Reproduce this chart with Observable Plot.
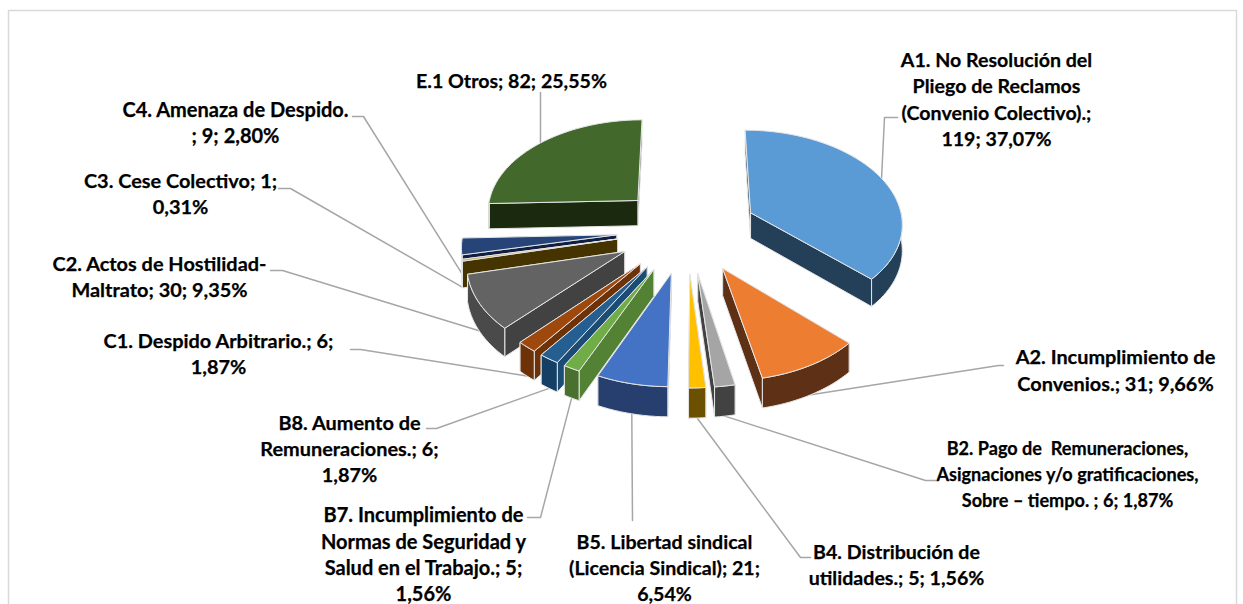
<!DOCTYPE html>
<html>
<head>
<meta charset="utf-8">
<script src="https://cdn.jsdelivr.net/npm/d3@7"></script>
<script src="https://cdn.jsdelivr.net/npm/@observablehq/plot@0.6"></script>
<style>
html,body{margin:0;padding:0;background:#fff;overflow:hidden}
svg{display:block}
</style>
</head>
<body>
<div id="chart"></div>
<script>
// ---- data ----
const categories = [
  "A1. No Resolución del\nPliego de Reclamos\n(Convenio Colectivo).;\n",
  "A2. Incumplimiento de\nConvenios.; ",
  "B2. Pago de  Remuneraciones,\nAsignaciones y/o gratificaciones,\nSobre – tiempo. ; ",
  "B4. Distribución de\nutilidades.; ",
  "B5. Libertad sindical\n(Licencia Sindical); ",
  "B7. Incumplimiento de\nNormas de Seguridad y\nSalud en el Trabajo.; ",
  "B8. Aumento de\nRemuneraciones.; ",
  "C1. Despido Arbitrario.; ",
  "C2. Actos de Hostilidad-\nMaltrato; ",
  "C3. Cese Colectivo; ",
  "C4. Amenaza de Despido.\n; ",
  "E.1 Otros; "
];
const counts = [119, 31, 6, 5, 21, 5, 6, 6, 30, 1, 9, 82];
const percents = ["37,07%","9,66%","1,87%","1,56%","6,54%","1,56%","1,87%","1,87%","9,35%","0,31%","2,80%","25,55%"];
// separator between count and percent in each label
const separators = [" "," "," "," ","\n","\n","\n","\n"," ","\n"," "," "];

// ---- styles ----
const topColors    = ["#5B9BD5","#ED7D31","#A5A5A5","#FFC000","#4472C4","#70AD47","#255E91","#9E480E","#636363","#BFA65A","#264478","#43682B"];
const radialColors = ["#243F58","#5E3116","#424242","#6B5000","#2A4677","#548235","#1A4C76","#6E3208","#424242","#453300","#101F42","#1B2A0E"];
const arcColors    = ["#243F58","#5E3116","#424242","#6B5000","#263F6E","#4A7030","#163F66","#6E3208","#4A4A4A","#453300","#101F42","#1B2A0E"];

// ---- layout ----
const labelX = [996,1115,1067,896,664,423,349,218,159,180,235,511];
const labelY = [97.5,368.5,472,563,566,553,447,352,275,192,121,79];
const labelSize = [19.6,19.9,18.1,19.6,19.6,20,19.9,19.9,19.9,19.9,20,19.6];
const leaderStart = [[897,117],[1003,365],[935,480],[810,557],[632,520],[527,517],[426,428],[350,349],[270,270],[278,188],[352,116],[540,92]];
const leaderElbow = [[884,117],[998,365],[925,480],[800,557],[632,520],[540,517],[436,428],[360,349],[282,270],[290,188],[363,116],[540,92]];
const cx = 686.5, cy = 229, rx = 153, ry = 93.5, persp = 0.095, depth = 26, explode = 0.46;
const lineH = 26.3;

// ---- geometry derived from the values ----
const total = d3.sum(counts);
const rad = d => d * Math.PI / 180;
function project(X, Y, H) {
  const s = 1 / (1 - persp * Y);
  return {x: cx + rx * X * s, y: cy + (ry * Y + H) * s};
}
let cum = 0;
const slices = counts.map((v, i) => {
  const t0 = cum / total * 360; cum += v; const t1 = cum / total * 360;
  const m = (t0 + t1) / 2;
  return {i, t0, t1, m, ax: explode * Math.sin(rad(m)), ay: -explode * Math.cos(rad(m))};
});
const rim = (s, t, H) => project(s.ax + Math.sin(rad(t)), s.ay - Math.cos(rad(t)), H);
const apex = (s, H) => project(s.ax, s.ay, H);
function arcPts(s, a, b, H) {
  const n = Math.max(2, Math.ceil((b - a) / 2)), out = [];
  for (let k = 0; k <= n; k++) out.push(rim(s, a + (b - a) * k / n, H));
  return out;
}
const faces = [];
let fid = 0;
function addFace(pts, fill) {
  const id = fid++;
  [...pts, pts[0]].forEach(p => faces.push({id, x: p.x, y: p.y, fill}));
}
[...slices].sort((p, q) => p.ay - q.ay).forEach(s => {
  const rad0 = [apex(s,0), rim(s,s.t0,0), rim(s,s.t0,depth), apex(s,depth)];
  const rad1 = [apex(s,0), rim(s,s.t1,0), rim(s,s.t1,depth), apex(s,depth)];
  const backFirst = Math.sin(rad(s.t0)) * -1 < Math.sin(rad(s.t1));
  const c = radialColors[s.i];
  if (backFirst) { addFace(rad0, c); addFace(rad1, c); } else { addFace(rad1, c); addFace(rad0, c); }
  const a = Math.max(s.t0, 90), b = Math.min(s.t1, 270);
  if (b > a) addFace([...arcPts(s,a,b,0), ...arcPts(s,a,b,depth).reverse()], arcColors[s.i]);
  addFace([apex(s,0), ...arcPts(s,s.t0,s.t1,0)], topColors[s.i]);
});

const labels = categories.map((c, i) => ({
  x: labelX[i], y: labelY[i], size: labelSize[i],
  text: c + counts[i] + ";" + separators[i] + percents[i]
}));

const leaders = [];
slices.forEach(s => {
  const end = rim(s, s.m, Math.cos(rad(s.m)) < 0 ? depth : 0);
  [{x: leaderStart[s.i][0], y: leaderStart[s.i][1]},
   {x: leaderElbow[s.i][0], y: leaderElbow[s.i][1]}, end]
    .forEach(p => leaders.push({i: s.i, x: p.x, y: p.y}));
});

const textMark = d => Plot.text([d], {x: "x", y: "y", text: "text", fontFamily: "Lato", fontWeight: 700, fontSize: d.size, lineHeight: lineH / d.size, fill: "#000", stroke: "#000", strokeWidth: 0.25, textAnchor: "middle", lineAnchor: "middle"});

const chart = Plot.plot({
  width: 1243, height: 604, margin: 0,
  x: {domain: [0, 1243], range: [0, 1243], axis: null},
  y: {domain: [0, 604], range: [0, 604], axis: null},
  color: {type: "identity"},
  style: {background: "#fff"},
  marks: [
    Plot.rect([{x1: 8.5, x2: 1236.5, y1: 10.5, y2: 640}], {x1: "x1", x2: "x2", y1: "y1", y2: "y2", fill: "none", stroke: "#d9d9d9", strokeWidth: 1.5}),
    Plot.line(leaders, {x: "x", y: "y", z: "i", stroke: "#a6a6a6", strokeWidth: 1.5, curve: "linear"}),
    Plot.line(faces, {x: "x", y: "y", z: "id", fill: "fill", stroke: "#e6e6e6", strokeWidth: 1, strokeLinejoin: "round", curve: "linear"}),
    ...labels.map(textMark)
  ]
});
document.getElementById("chart").appendChild(chart);
</script>
</body>
</html>
